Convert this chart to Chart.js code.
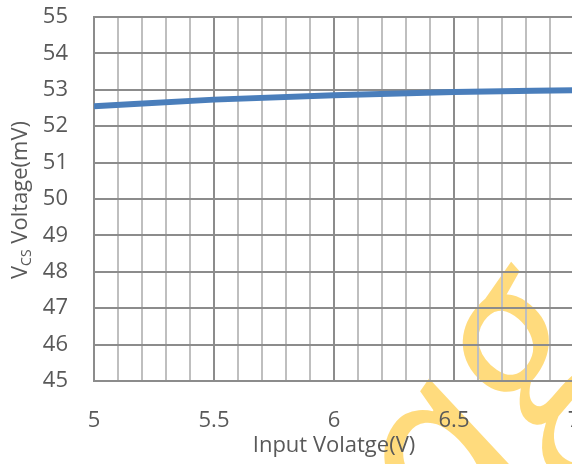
<!DOCTYPE html>
<html>
<head>
<meta charset="utf-8">
<script src="https://cdn.jsdelivr.net/npm/chart.js@4"></script>
<style>
  html, body { margin: 0; padding: 0; background: #fff; overflow: hidden; }
  #wrap { width: 600px; height: 464px; }
</style>
</head>
<body>
<div id="wrap"><canvas id="chart"></canvas></div>
<script>
// data
const inputVoltage = [5, 5.5, 6, 6.5, 7];
const vcsVoltage = [52.55, 52.73, 52.85, 52.94, 52.99];
const xMajorTicks = [5, 5.5, 6, 6.5, 7];
const yTicks = [45, 46, 47, 48, 49, 50, 51, 52, 53, 54, 55];

const FONT = '"Open Sans", sans-serif';
const TEXT = '#595959';
const GRID_DARK = '#8c8c8c';
const GRID_LIGHT = '#bfbfbf';

function isMajorX(v) {
  return xMajorTicks.some(t => Math.abs(t - v) < 1e-6);
}

// watermark behind the plot + axis titles (y title needs a subscript)
const decorations = {
  id: 'decorations',
  beforeDraw(chart) {
    const ctx = chart.ctx;
    ctx.save();
    ctx.translate(480, 415);
    ctx.rotate(-55 * Math.PI / 180);
    ctx.fillStyle = 'rgba(255, 213, 102, 0.85)';
    ctx.font = 'italic 250px "Open Sans"';
    ctx.textAlign = 'center';
    ctx.textBaseline = 'middle';
    ctx.fillText('ag', 0, 0);
    ctx.restore();
  },
  afterDraw(chart) {
    const ctx = chart.ctx;
    const area = chart.chartArea;
    ctx.save();
    ctx.fillStyle = TEXT;
    ctx.textBaseline = 'middle';

    // x title
    ctx.font = '22px ' + FONT;
    ctx.textAlign = 'center';
    ctx.fillText('Input Volatge(V)', (area.left + area.right) / 2, 446);

    // y title, rotated, with CS subscript
    const big = '22px ' + FONT;
    const small = '14px ' + FONT;
    ctx.font = big;
    const wV = ctx.measureText('V').width;
    const wRest = ctx.measureText(' Voltage(mV)').width;
    ctx.font = small;
    const wSub = ctx.measureText('CS').width;
    const total = wV + wSub + wRest;
    ctx.translate(21, 200);
    ctx.rotate(-Math.PI / 2);
    ctx.textAlign = 'left';
    let x = -total / 2;
    ctx.font = big;
    ctx.fillText('V', x, 0);
    x += wV;
    ctx.font = small;
    ctx.fillText('CS', x, 6);
    x += wSub;
    ctx.font = big;
    ctx.fillText(' Voltage(mV)', x, 0);
    ctx.restore();
  }
};

new Chart(document.getElementById('chart'), {
  type: 'line',
  data: {
    datasets: [{
      data: inputVoltage.map((v, i) => ({ x: v, y: vcsVoltage[i] })),
      borderColor: '#4a7ebb',
      borderWidth: 6,
      pointRadius: 0,
      tension: 0.4,
      cubicInterpolationMode: 'monotone',
      fill: false
    }]
  },
  options: {
    responsive: true,
    maintainAspectRatio: false,
    animation: false,
    layout: { padding: { top: 17, right: 26, left: 0, bottom: 0 } },
    plugins: { legend: { display: false }, tooltip: { enabled: false } },
    scales: {
      x: {
        type: 'linear',
        min: 5,
        max: 7,
        afterBuildTicks(scale) {
          const t = [];
          for (let i = 0; i <= 20; i++) t.push({ value: 5 + i * 0.1 });
          scale.ticks = t;
        },
        ticks: {
          autoSkip: false,
          maxRotation: 0,
          padding: 27,
          color: TEXT,
          font: { family: FONT, size: 22 },
          callback: v => isMajorX(v) ? String(Math.round(v * 10) / 10) : ''
        },
        grid: {
          drawTicks: false,
          lineWidth: 2,
          color: c => isMajorX(c.tick ? c.tick.value : 0) ? GRID_DARK : GRID_LIGHT
        },
        border: { color: GRID_DARK, width: 2 },
        afterFit(scale) {
          scale.height = 83;
          scale.paddingLeft = 0;
          scale.paddingRight = 0;
        }
      },
      y: {
        min: 45,
        max: 55,
        afterBuildTicks(scale) {
          scale.ticks = yTicks.map(v => ({ value: v }));
        },
        ticks: {
          padding: 26,
          color: TEXT,
          font: { family: FONT, size: 22 }
        },
        grid: { drawTicks: false, lineWidth: 2, color: GRID_DARK },
        border: { color: GRID_DARK, width: 2 },
        afterFit(scale) {
          scale.width = 94;
          scale.paddingTop = 0;
          scale.paddingBottom = 0;
        }
      }
    }
  },
  plugins: [decorations]
});
</script>
</body>
</html>
